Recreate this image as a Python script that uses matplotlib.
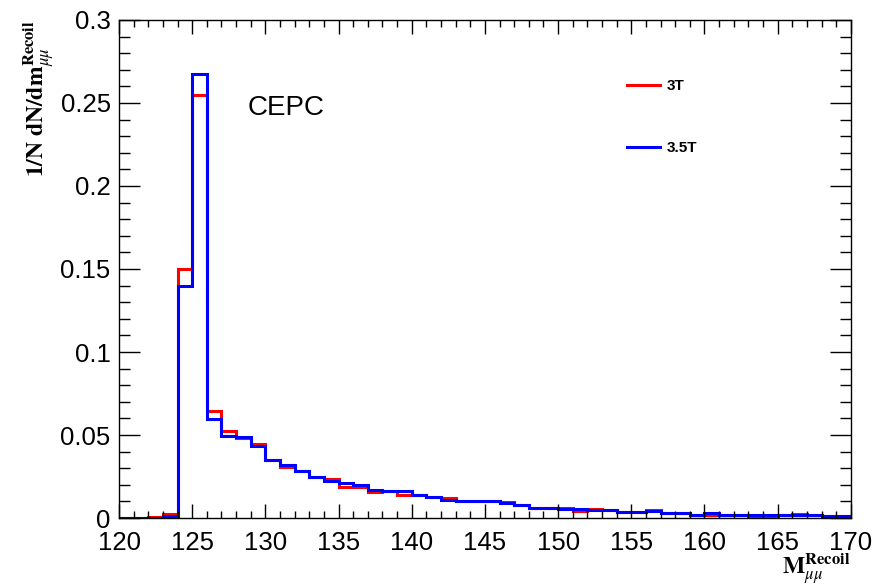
import numpy as np
import matplotlib.pyplot as plt
from matplotlib.ticker import MultipleLocator

plt.rcParams['font.family'] = ['Liberation Sans', 'DejaVu Sans']
plt.rcParams['mathtext.fontset'] = 'stix'

# bin edges 120..170, width 1 GeV
edges = np.arange(120, 171)

# normalised recoil mass, 3 T
h_3T = [0, 0, 0.0005, 0.0025, 0.150, 0.2546, 0.0643, 0.0522, 0.0482, 0.0445,
        0.0352, 0.0309, 0.0283, 0.0249, 0.0233, 0.0186, 0.0186, 0.0158, 0.0163, 0.0141,
        0.0136, 0.0126, 0.0119, 0.0104, 0.0100, 0.0100, 0.0095, 0.0076, 0.0062, 0.0060,
        0.0062, 0.0042, 0.0054, 0.0046, 0.0037, 0.0037, 0.0050, 0.0030, 0.0030, 0.0021,
        0.0021, 0.0020, 0.0020, 0.0012, 0.0012, 0.0020, 0.0026, 0.0020, 0.0013, 0.0011]

# normalised recoil mass, 3.5 T
h_35T = [0, 0, 0, 0.0015, 0.140, 0.2675, 0.0596, 0.0497, 0.0486, 0.0433,
         0.0352, 0.0322, 0.0283, 0.0249, 0.0223, 0.0208, 0.0200, 0.0170, 0.0163, 0.0163,
         0.0136, 0.0126, 0.0111, 0.0104, 0.0100, 0.0100, 0.0088, 0.0076, 0.0062, 0.0058,
         0.0054, 0.0052, 0.0048, 0.0046, 0.0037, 0.0037, 0.0040, 0.0030, 0.0030, 0.0021,
         0.0030, 0.0021, 0.0020, 0.0020, 0.0020, 0.0020, 0.0018, 0.0020, 0.0011, 0.0011]

fig = plt.figure(figsize=(8.77, 5.87), dpi=100)
ax = fig.add_axes([0.1357, 0.1175, 0.8345, 0.8485])

ax.stairs(h_3T, edges, color='#ff0000', lw=2.2, label='3T')
ax.stairs(h_35T, edges, color='#0000ff', lw=2.2, label='3.5T')

ax.set_xlim(120, 170)
ax.set_ylim(0, 0.3)
ax.xaxis.set_major_locator(MultipleLocator(5))
ax.xaxis.set_minor_locator(MultipleLocator(1))
ax.yaxis.set_major_locator(MultipleLocator(0.05))
ax.yaxis.set_minor_locator(MultipleLocator(0.01))
ax.set_yticks([0, 0.05, 0.1, 0.15, 0.2, 0.25, 0.3])
ax.set_yticklabels(['0', '0.05', '0.1', '0.15', '0.2', '0.25', '0.3'])

ax.tick_params(axis='both', which='both', direction='in', top=True, right=True,
               labelsize=18.5, width=1)
ax.tick_params(axis='x', which='major', length=10, pad=9)
ax.tick_params(axis='x', which='minor', length=5)
ax.tick_params(axis='y', which='major', length=15, pad=6)
ax.tick_params(axis='y', which='minor', length=8)
for s in ax.spines.values():
    s.set_linewidth(1)

ax.text(0.176, 0.81, 'CEPC', transform=ax.transAxes, fontsize=20)

leg = ax.legend(loc='upper left', bbox_to_anchor=(0.676, 0.909), frameon=False,
                handlelength=2.1, handletextpad=0.45, labelspacing=3.15,
                prop={'weight': 'bold', 'size': 11})

fig.text(0.045, 0.966, r'$\mathbf{1/N\ dN/dm}_{\mu\mu}^{\mathbf{Recoil}}$',
         rotation=90, ha='center', va='top', fontsize=17)
fig.text(0.970, 0.0, r'$\mathbf{M}_{\mu\mu}^{\mathbf{Recoil}}$',
         ha='right', va='bottom', fontsize=17)

plt.savefig('out.png', dpi=100)
